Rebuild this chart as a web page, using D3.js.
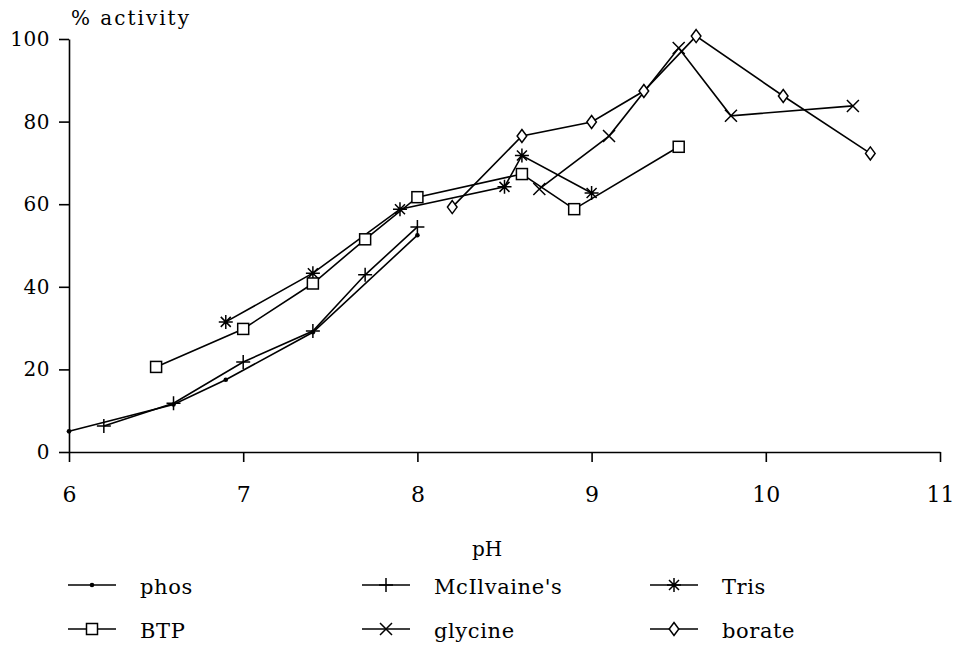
<!DOCTYPE html>
<html>
<head>
<meta charset="utf-8">
<script src="https://cdn.jsdelivr.net/npm/d3@7"></script>
<style>
  html, body { margin: 0; padding: 0; background: #fff; }
  svg text { font-family: "DejaVu Serif", "Liberation Serif", serif; fill: #000; }
</style>
</head>
<body>
<svg id="chart" width="958" height="652"></svg>
<script>
// ---- data ----
const phosPH = [6.0, 6.6, 6.9, 7.4, 8.0];
const phosAct = [5.0, 11.5, 17.5, 29.0, 52.5];

const mcPH = [6.2, 6.6, 7.0, 7.4, 7.7, 8.0];
const mcAct = [6.3, 11.8, 21.8, 29.3, 42.9, 54.5];

const trisPH = [6.9, 7.4, 7.9, 8.5, 8.6, 9.0];
const trisAct = [31.5, 43.3, 58.8, 64.2, 71.8, 62.7];

const btpPH = [6.5, 7.0, 7.4, 7.7, 8.0, 8.6, 8.9, 9.5];
const btpAct = [20.6, 29.8, 40.8, 51.5, 61.7, 67.3, 58.8, 73.9];

const glyPH = [8.7, 9.1, 9.5, 9.8, 10.5];
const glyAct = [63.7, 76.5, 97.8, 81.4, 83.8];

const borPH = [8.2, 8.6, 9.0, 9.3, 9.6, 10.1, 10.6];
const borAct = [59.3, 76.5, 79.9, 87.4, 100.7, 86.2, 72.3];

const xTicks = [6, 7, 8, 9, 10, 11];
const yTicks = [0, 20, 40, 60, 80, 100];

const seriesNames = ["phos", "McIlvaine's", "Tris", "BTP", "glycine", "borate"];
const seriesMarkers = ["dot", "plus", "star", "square", "cross", "diamond"];
const seriesX = [phosPH, mcPH, trisPH, btpPH, glyPH, borPH];
const seriesY = [phosAct, mcAct, trisAct, btpAct, glyAct, borAct];

const series = seriesNames.map((n, i) => ({
  name: n, marker: seriesMarkers[i],
  pts: seriesX[i].map((x, j) => ({x, y: seriesY[i][j]}))
}));

// ---- layout ----
const svg = d3.select("#chart");
const x = d3.scaleLinear().domain([6, 11]).range([69, 940]);
const y = d3.scaleLinear().domain([0, 100]).range([452, 39]);

// axes
const gx = svg.append("g").attr("transform", `translate(0,${y(0)})`)
  .call(d3.axisBottom(x).tickValues(xTicks).tickSize(10).tickSizeOuter(0).tickPadding(28).tickFormat(d3.format("d")));
const gy = svg.append("g").attr("transform", `translate(${x(6)},0)`)
  .call(d3.axisLeft(y).tickValues(yTicks).tickSize(10).tickSizeOuter(0).tickPadding(9).tickFormat(d3.format("d")));
[gx, gy].forEach(g => {
  g.selectAll("path, line").attr("stroke", "#000").attr("stroke-width", 1.6);
  g.selectAll("text").style("font-family", '"DejaVu Serif", serif').attr("fill", "#000");
});
gx.selectAll("text").style("font-size", "22px").attr("dy", "0").attr("y", 50);
gy.selectAll("text").style("font-size", "20px").attr("letter-spacing", "0.5");

svg.append("text").attr("x", 71).attr("y", 25).style("font-size", "20px")
  .attr("letter-spacing", "2").text("% activity");
svg.append("text").attr("x", x(8.4)).attr("y", 556).attr("text-anchor", "middle")
  .style("font-size", "20px").text("pH");

// markers
function drawMarker(g, type, cx, cy) {
  const s = g.append("g").attr("transform", `translate(${cx},${cy})`);
  const sw = 1.5;
  if (type === "dot") {
    s.append("circle").attr("r", 2.3).attr("fill", "#000");
  } else if (type === "plus") {
    s.append("path").attr("d", "M-7,0H7M0,-7V7").attr("fill", "none").attr("stroke", "#000").attr("stroke-width", sw);
  } else if (type === "cross") {
    s.append("path").attr("d", "M-6,-6L6,6M-6,6L6,-6").attr("fill", "none").attr("stroke", "#000").attr("stroke-width", sw);
  } else if (type === "star") {
    s.append("path").attr("d", "M-7,0H7M0,-7V7M-5,-5L5,5M-5,5L5,-5").attr("fill", "none").attr("stroke", "#000").attr("stroke-width", sw);
  } else if (type === "square") {
    s.append("rect").attr("x", -5.5).attr("y", -5.5).attr("width", 11).attr("height", 11)
      .attr("fill", "#fff").attr("stroke", "#000").attr("stroke-width", sw);
  } else if (type === "diamond") {
    s.append("path").attr("d", "M0,-6.5L4.8,0L0,6.5L-4.8,0Z")
      .attr("fill", "#fff").attr("stroke", "#000").attr("stroke-width", sw);
  }
}

const line = d3.line().x(d => x(d.x)).y(d => y(d.y));
const plot = svg.append("g");
series.forEach(s => {
  plot.append("path").datum(s.pts).attr("d", line)
    .attr("fill", "none").attr("stroke", "#000").attr("stroke-width", 1.6);
});
series.forEach(s => {
  s.pts.forEach(p => drawMarker(plot, s.marker, x(p.x), y(p.y)));
});

// legend
const legCols = [68, 362, 650];
const legRows = [585, 629];
const leg = svg.append("g");
series.forEach((s, i) => {
  const col = i % 3, row = Math.floor(i / 3);
  const lx = legCols[col], ly = legRows[row];
  leg.append("line").attr("x1", lx).attr("x2", lx + 48).attr("y1", ly).attr("y2", ly)
    .attr("stroke", "#000").attr("stroke-width", 1.5);
  drawMarker(leg, s.marker, lx + 24, ly);
  leg.append("text").attr("x", lx + 72).attr("y", ly + 9).style("font-size", "21px")
    .attr("letter-spacing", "0.6").text(s.name);
});
</script>
</body>
</html>
